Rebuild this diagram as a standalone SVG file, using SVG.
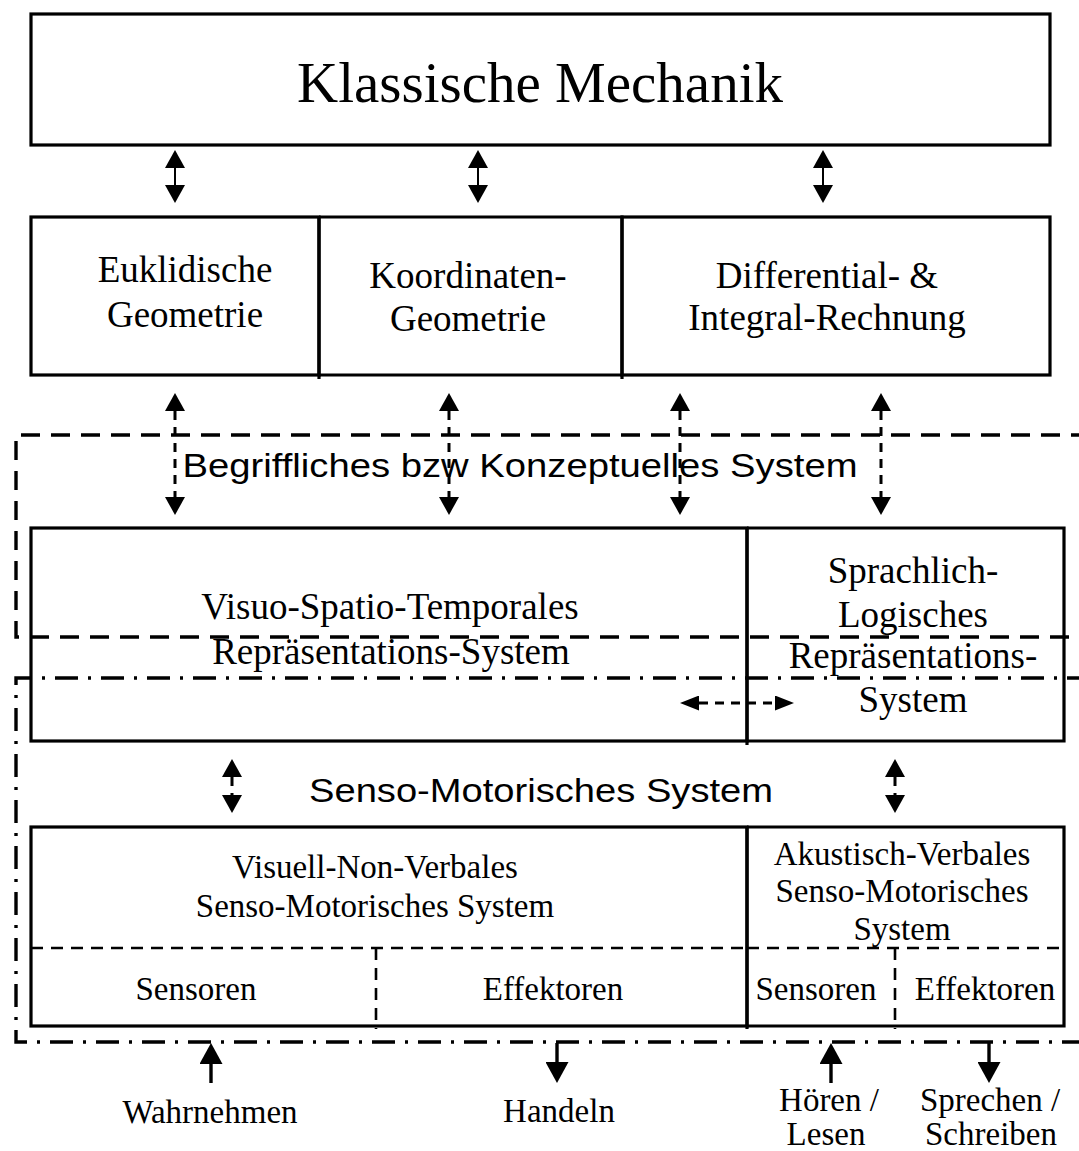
<svg xmlns="http://www.w3.org/2000/svg" width="1079" height="1151" viewBox="0 0 1079 1151">
  <style>
    .box { fill: none; stroke: #000; stroke-width: 3.2; }
    .div { fill: none; stroke: #000; stroke-width: 3.2; }
    .inner { fill: none; stroke: #000; stroke-width: 2.6; stroke-dasharray: 12 8; }
    .frame-dash { fill: none; stroke: #000; stroke-width: 3.4; stroke-dasharray: 19 11; }
    .frame-dashdot { fill: none; stroke: #000; stroke-width: 3.4; stroke-dasharray: 23 10 3 10; }
    .solid { fill: none; stroke: #000; stroke-width: 2; }
    .dashed { fill: none; stroke: #000; stroke-width: 3; stroke-dasharray: 9 7; }
    .thick { fill: none; stroke: #000; stroke-width: 3.4; }
    .serif { font-family: "Liberation Serif", "Times New Roman", serif; fill: #000; text-anchor: middle; }
    .sans { font-family: "Liberation Sans", Arial, sans-serif; fill: #000; text-anchor: middle; }
    .big { font-size: 57px; }
    .mid { font-size: 37px; }
    .small { font-size: 33px; }
  </style>
  <defs>
    <marker id="head" markerUnits="userSpaceOnUse" viewBox="0 0 18 20" refX="0" refY="10" markerWidth="18" markerHeight="20" orient="auto-start-reverse">
      <path d="M0,0 L18,10 L0,20 z" fill="#000"/>
    </marker>
    <marker id="headSmall" markerUnits="userSpaceOnUse" viewBox="0 0 19 15" refX="0" refY="7.5" markerWidth="19" markerHeight="15" orient="auto-start-reverse">
      <path d="M0,0 L19,7.5 L0,15 z" fill="#000"/>
    </marker>
    <marker id="headBig" markerUnits="userSpaceOnUse" viewBox="0 0 21 23" refX="0" refY="11.5" markerWidth="21" markerHeight="23" orient="auto">
      <path d="M0,0 L21,11.5 L0,23 z" fill="#000"/>
    </marker>
  </defs>

  <rect width="1079" height="1151" fill="#fff"/>

  <!-- system frames -->
  <g id="frame-konzeptuell">
    <path class="frame-dash" d="M1090,435 H16 V637 H1090"/>
    <text class="sans" x="520" y="477" font-size="34" textLength="675" lengthAdjust="spacingAndGlyphs">Begriffliches bzw Konzeptuelles System</text>
  </g>
  <g id="frame-sensomotorisch">
    <path class="frame-dashdot" d="M1090,678 H16 V1042 H1090"/>
    <text class="sans" x="541" y="802" font-size="34" textLength="464" lengthAdjust="spacingAndGlyphs">Senso-Motorisches System</text>
  </g>

  <!-- top level -->
  <g id="klassische-mechanik">
    <rect class="box" x="31" y="14" width="1019" height="131"/>
    <text class="serif big" x="540" y="102">Klassische Mechanik</text>
  </g>

  <!-- mathematical tools -->
  <g id="euklidische-geometrie">
    <rect class="box" x="31" y="217" width="288" height="158"/>
    <text class="serif mid" x="185" y="282">Euklidische</text>
    <text class="serif mid" x="185" y="327">Geometrie</text>
  </g>
  <g id="koordinaten-geometrie">
    <path class="div" d="M319,217 H622 V379 M319,217 V379 M319,375 H622"/>
    <text class="serif mid" x="468" y="288">Koordinaten-</text>
    <text class="serif mid" x="468" y="331">Geometrie</text>
  </g>
  <g id="differential-integral">
    <rect class="box" x="622" y="217" width="428" height="158"/>
    <text class="serif mid" x="827" y="288">Differential- &amp;</text>
    <text class="serif mid" x="827" y="330">Integral-Rechnung</text>
  </g>

  <!-- representation systems -->
  <g id="visuo-spatio-temporal">
    <rect class="box" x="31" y="528" width="716" height="213"/>
    <text class="serif mid" x="390" y="619">Visuo-Spatio-Temporales</text>
    <text class="serif mid" x="391" y="664">Repräsentations-System</text>
  </g>
  <g id="sprachlich-logisch">
    <path class="box" d="M747,528 H1064 V741 H747"/>
    <line class="div" x1="747" y1="528" x2="747" y2="745"/>
    <text class="serif mid" x="913" y="583">Sprachlich-</text>
    <text class="serif mid" x="913" y="627">Logisches</text>
    <text class="serif mid" x="913" y="668">Repräsentations-</text>
    <text class="serif mid" x="913" y="712">System</text>
  </g>

  <!-- senso-motor systems -->
  <g id="visuell-non-verbal">
    <rect class="box" x="31" y="827" width="716" height="199"/>
    <path class="inner" d="M31,948 H747 M376,948 V1029"/>
    <text class="serif small" x="375" y="878">Visuell-Non-Verbales</text>
    <text class="serif small" x="375" y="917">Senso-Motorisches System</text>
    <text class="serif small" x="196" y="1000">Sensoren</text>
    <text class="serif small" x="553" y="1000">Effektoren</text>
  </g>
  <g id="akustisch-verbal">
    <path class="box" d="M747,827 H1064 V1026 H747"/>
    <line class="div" x1="747" y1="827" x2="747" y2="1029"/>
    <path class="inner" d="M747,948 H1064 M895,948 V1029"/>
    <text class="serif small" x="902" y="865">Akustisch-Verbales</text>
    <text class="serif small" x="902" y="902">Senso-Motorisches</text>
    <text class="serif small" x="902" y="940">System</text>
    <text class="serif small" x="816" y="1000">Sensoren</text>
    <text class="serif small" x="985" y="1000">Effektoren</text>
  </g>

  <!-- outside world -->
  <g id="wahrnehmen"><text class="serif small" x="210" y="1123">Wahrnehmen</text></g>
  <g id="handeln"><text class="serif small" x="559" y="1122">Handeln</text></g>
  <g id="hoeren-lesen">
    <text class="serif small" x="829" y="1111">Hören /</text>
    <text class="serif small" x="826" y="1145">Lesen</text>
  </g>
  <g id="sprechen-schreiben">
    <text class="serif small" x="990" y="1111">Sprechen /</text>
    <text class="serif small" x="991" y="1145">Schreiben</text>
  </g>

  <!-- connectors -->
  <g id="connectors">
    <!-- mechanics <-> mathematics -->
    <line class="solid" x1="175" y1="168" x2="175" y2="185" marker-start="url(#head)" marker-end="url(#head)"/>
    <line class="solid" x1="478" y1="168" x2="478" y2="185" marker-start="url(#head)" marker-end="url(#head)"/>
    <line class="solid" x1="823" y1="168" x2="823" y2="185" marker-start="url(#head)" marker-end="url(#head)"/>
    <!-- mathematics <-> representation -->
    <line class="dashed" x1="175" y1="411" x2="175" y2="497" marker-start="url(#head)" marker-end="url(#head)"/>
    <line class="dashed" x1="449" y1="411" x2="449" y2="497" marker-start="url(#head)" marker-end="url(#head)"/>
    <line class="dashed" x1="680" y1="411" x2="680" y2="497" marker-start="url(#head)" marker-end="url(#head)"/>
    <line class="dashed" x1="881" y1="411" x2="881" y2="497" marker-start="url(#head)" marker-end="url(#head)"/>
    <!-- between representation systems -->
    <line class="dashed" x1="699" y1="703" x2="775" y2="703" marker-start="url(#headSmall)" marker-end="url(#headSmall)"/>
    <!-- representation <-> senso-motor -->
    <line class="dashed" x1="232" y1="777" x2="232" y2="795" marker-start="url(#head)" marker-end="url(#head)"/>
    <line class="dashed" x1="895" y1="777" x2="895" y2="795" marker-start="url(#head)" marker-end="url(#head)"/>
    <!-- world interface -->
    <line class="thick" x1="211" y1="1083" x2="211" y2="1064" marker-end="url(#headBig)"/>
    <line class="thick" x1="557" y1="1043" x2="557" y2="1062" marker-end="url(#headBig)"/>
    <line class="thick" x1="831" y1="1083" x2="831" y2="1064" marker-end="url(#headBig)"/>
    <line class="thick" x1="989" y1="1043" x2="989" y2="1062" marker-end="url(#headBig)"/>
  </g>
</svg>
